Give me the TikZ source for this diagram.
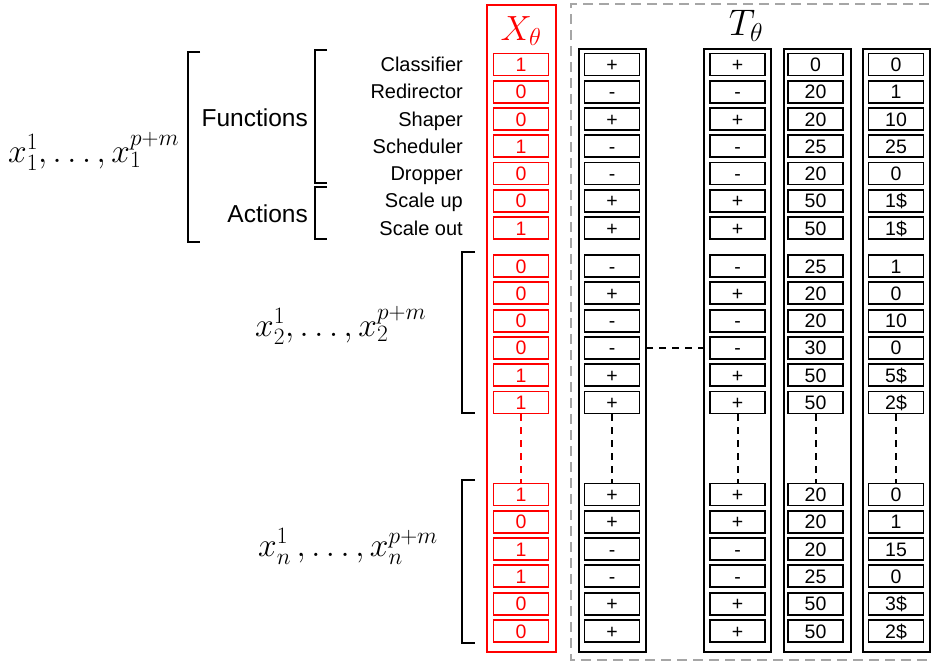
\RequirePackage{fix-cm}
\documentclass[tikz,border=0pt]{standalone}
\usepackage[no-math]{fontspec}
\setmainfont{Liberation Sans}
\begin{document}
\begin{tikzpicture}[x=1pt,y=-1pt,
  cell/.style={draw, line width=1.9pt, minimum width=55pt, minimum height=22pt, inner sep=0pt,
    text height=14pt, text depth=0pt, font=\fontsize{19.5}{20}\selectfont},
  rcell/.style={cell, draw=red, text=red},
  colbox/.style={draw, line width=1.9pt},
  rcolbox/.style={draw=red, line width=1.9pt},
  lbl/.style={anchor=base east, inner sep=0pt, font=\fontsize{20}{21}\selectfont},
  biglbl/.style={anchor=base east, inner sep=0pt, font=\fontsize{24.5}{27}\selectfont},
  mathlbl/.style={anchor=base west, inner sep=0pt, font=\fontsize{33.5}{38}\selectfont},
  brk/.style={draw, line width=1.9pt},
  dsh/.style={line width=2pt, dash pattern=on 7pt off 6pt},
  grayframe/.style={draw=gray!70, line width=2pt, dash pattern=on 10pt off 6pt}]
\useasboundingbox (0,0) rectangle (931,662);

% gray dashed frame (right side off the page)
\draw[grayframe] (945,4) -- (571,4) -- (571,660) -- (945,660);

% column frames
\draw[rcolbox] (487,5) rectangle (556,652);
\draw[colbox] (579,49) rectangle (646,652);
\draw[colbox] (704,49) rectangle (771,652);
\draw[colbox] (784,49) rectangle (851,652);
\draw[colbox] (863,49) rectangle (930,652);
\coordinate (AcolE) at (646,0);
\coordinate (BcolW) at (704,0);

% headers
\node[red, font=\fontsize{35}{40}\selectfont] (Xh) at (521,31) {$X_\theta$};
\node[font=\fontsize{37}{42}\selectfont] (Th) at (746,26) {$T_\theta$};

% group 1
\foreach \v [count=\i] in {1,0,0,1,0,0,1}
  \node[rcell] (x-1-\i) at (521,{64.5+27.25*(\i-1)}) {\v};
\foreach \s/\c/\d [count=\i] in {+/0/0,-/20/1,+/20/10,-/25/25,-/20/0,+/50/1\$,+/50/1\$}{
  \node[cell] (a-1-\i) at (612,{64.5+27.25*(\i-1)}) {\s};
  \node[cell] (b-1-\i) at (737.5,{64.5+27.25*(\i-1)}) {\s};
  \node[cell] (c-1-\i) at (815.5,{64.5+27.25*(\i-1)}) {\c};
  \node[cell] (d-1-\i) at (896,{64.5+27.25*(\i-1)}) {\d};
}
% group 2
\foreach \v [count=\i] in {0,0,0,0,1,1}
  \node[rcell] (x-2-\i) at (521,{266+27.3*(\i-1)}) {\v};
\foreach \s/\c/\d [count=\i] in {-/25/1,+/20/0,-/20/10,-/30/0,+/50/5\$,+/50/2\$}{
  \node[cell] (a-2-\i) at (612,{266+27.3*(\i-1)}) {\s};
  \node[cell] (b-2-\i) at (737.5,{266+27.3*(\i-1)}) {\s};
  \node[cell] (c-2-\i) at (815.5,{266+27.3*(\i-1)}) {\c};
  \node[cell] (d-2-\i) at (896,{266+27.3*(\i-1)}) {\d};
}
% group 3
\foreach \v [count=\i] in {1,0,1,1,0,0}
  \node[rcell] (x-3-\i) at (521,{494.5+27.3*(\i-1)}) {\v};
\foreach \s/\c/\d [count=\i] in {+/20/0,+/20/1,-/20/15,-/25/0,+/50/3\$,+/50/2\$}{
  \node[cell] (a-3-\i) at (612,{494.5+27.3*(\i-1)}) {\s};
  \node[cell] (b-3-\i) at (737.5,{494.5+27.3*(\i-1)}) {\s};
  \node[cell] (c-3-\i) at (815.5,{494.5+27.3*(\i-1)}) {\c};
  \node[cell] (d-3-\i) at (896,{494.5+27.3*(\i-1)}) {\d};
}

% vertical dashed continuations
\draw[dsh, red] (x-2-6.south) -- (x-3-1.north);
\foreach \k in {a,b,c,d}
  \draw[dsh] (\k-2-6.south) -- (\k-3-1.north);
% horizontal dashed link
\draw[dsh] (a-2-4 -| AcolE) -- (b-2-4 -| BcolW);

% row labels
\foreach \t [count=\i] in {Classifier,Redirector,Shaper,Scheduler,Dropper,Scale up,Scale out}
  \node[lbl] (l-\i) at (463,{64.5+27.25*(\i-1)+7}) {\t};
\node[biglbl] (fun) at (308,126) {Functions};
\node[biglbl] (act) at (308,222) {Actions};

% brackets
\draw[brk] (200,52) -- (188,52) -- (188,242) -- (200,242);
\draw[brk] (327,50) -- (315,50) -- (315,183) -- (327,183);
\draw[brk] (327,187) -- (315,187) -- (315,239) -- (327,239);
\draw[brk] (475,252) -- (462,252) -- (462,413) -- (475,413);
\draw[brk] (475,480) -- (462,480) -- (462,643) -- (475,643);

% math labels
\node[mathlbl] (m1) at (8,162) {$x_1^1, \ldots, x_1^{p+m}$};
\node[mathlbl] (m2) at (255,336) {$x_2^1, \ldots, x_2^{p+m}$};
\node[mathlbl] (m3) at (258,556) {$x_n^1\,, \ldots, x_n^{p+m}$};
\end{tikzpicture}
\end{document}
